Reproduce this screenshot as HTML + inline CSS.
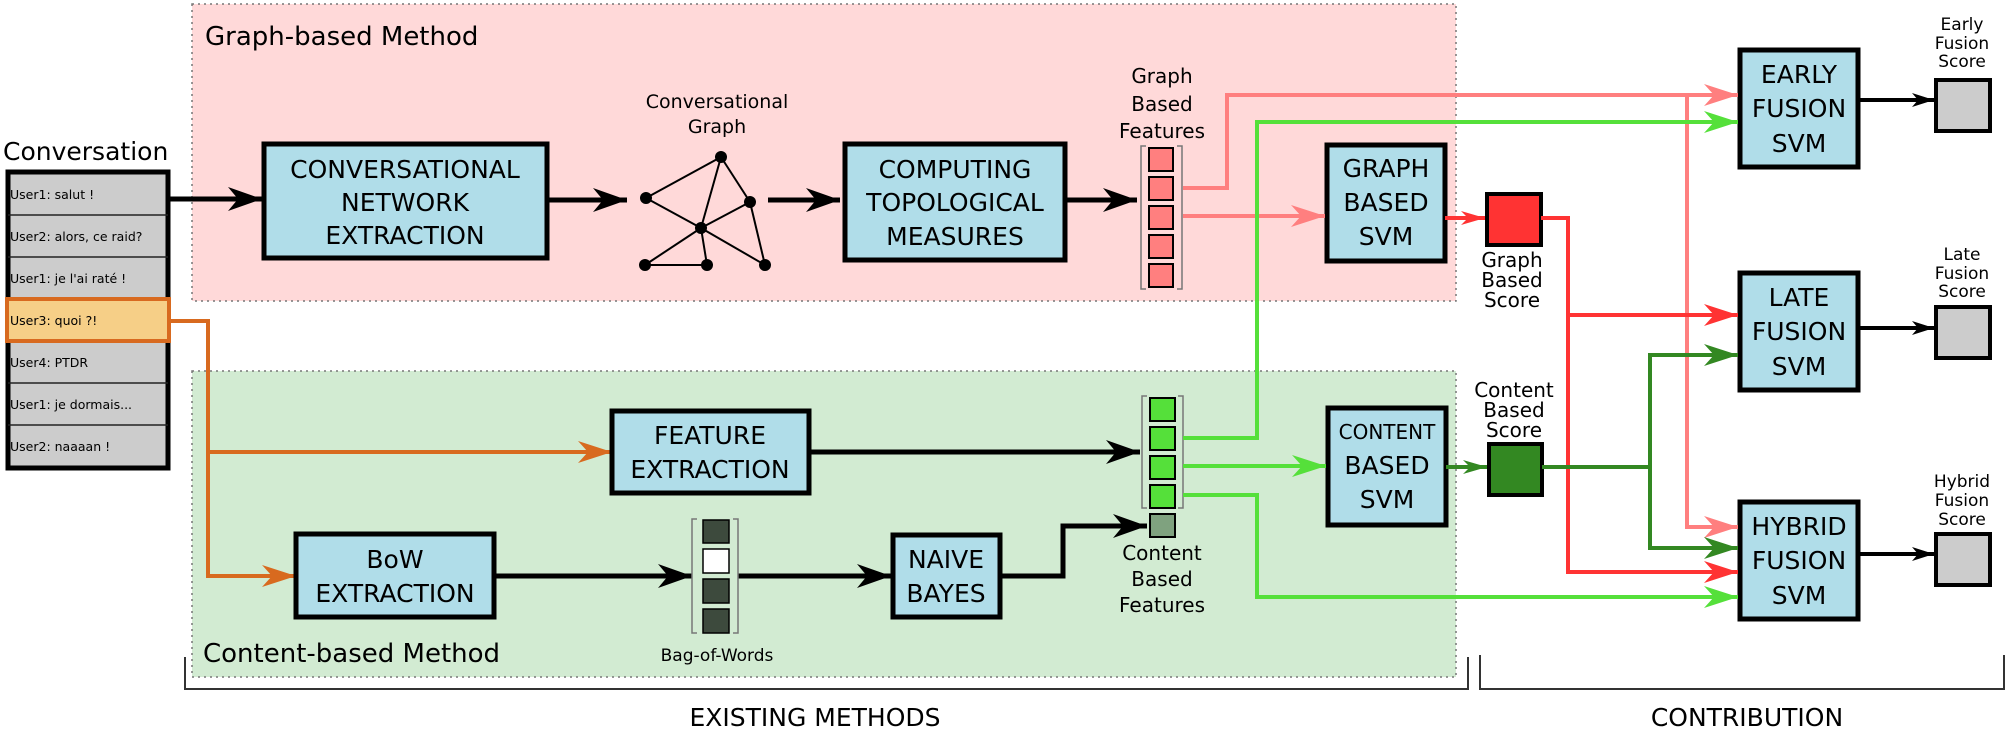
<!DOCTYPE html>
<html><head><meta charset="utf-8"><style>
html,body{margin:0;padding:0;background:#fff;}
svg{display:block;font-family:"DejaVu Sans","Liberation Sans",sans-serif;}
</style></head><body>
<svg width="2008" height="731" viewBox="0 0 2008 731" xmlns="http://www.w3.org/2000/svg">
<defs>
<marker id="ab" markerUnits="userSpaceOnUse" markerWidth="36" markerHeight="26" viewBox="0 -13 36 26" refX="34" refY="0" orient="auto"><path d="M0,-12 L34,0 L0,12 L10,0 Z" fill="#000"/></marker>
<marker id="abs" markerUnits="userSpaceOnUse" markerWidth="24" markerHeight="16" viewBox="0 -8 24 16" refX="22" refY="0" orient="auto"><path d="M0,-7 L22,0 L0,7 L6,0 Z" fill="#000"/></marker>
<marker id="ap" markerUnits="userSpaceOnUse" markerWidth="36" markerHeight="26" viewBox="0 -13 36 26" refX="34" refY="0" orient="auto"><path d="M0,-11 L34,0 L0,11 L10,0 Z" fill="#ff7f7f"/></marker>
<marker id="ar" markerUnits="userSpaceOnUse" markerWidth="36" markerHeight="26" viewBox="0 -13 36 26" refX="34" refY="0" orient="auto"><path d="M0,-11 L34,0 L0,11 L10,0 Z" fill="#ff3333"/></marker>
<marker id="ars" markerUnits="userSpaceOnUse" markerWidth="26" markerHeight="18" viewBox="0 -9 26 18" refX="24" refY="0" orient="auto"><path d="M0,-7 L24,0 L0,7 L7,0 Z" fill="#ff3333"/></marker>
<marker id="ag" markerUnits="userSpaceOnUse" markerWidth="36" markerHeight="26" viewBox="0 -13 36 26" refX="34" refY="0" orient="auto"><path d="M0,-11 L34,0 L0,11 L10,0 Z" fill="#55e03a"/></marker>
<marker id="ad" markerUnits="userSpaceOnUse" markerWidth="36" markerHeight="26" viewBox="0 -13 36 26" refX="34" refY="0" orient="auto"><path d="M0,-11 L34,0 L0,11 L10,0 Z" fill="#338822"/></marker>
<marker id="ads" markerUnits="userSpaceOnUse" markerWidth="26" markerHeight="18" viewBox="0 -9 26 18" refX="24" refY="0" orient="auto"><path d="M0,-7 L24,0 L0,7 L7,0 Z" fill="#338822"/></marker>
<marker id="ao" markerUnits="userSpaceOnUse" markerWidth="36" markerHeight="26" viewBox="0 -13 36 26" refX="34" refY="0" orient="auto"><path d="M0,-11 L34,0 L0,11 L10,0 Z" fill="#d86a1f"/></marker>
</defs>

<!-- regions -->
<rect x="192" y="4" width="1264" height="297" fill="#ffd9d9" stroke="#777" stroke-width="1.5" stroke-dasharray="2,4"/>
<rect x="192" y="371" width="1264" height="306" fill="#d2ebd2" stroke="#777" stroke-width="1.5" stroke-dasharray="2,4"/>
<text x="205" y="45" font-size="26">Graph-based Method</text>
<text x="203" y="662" font-size="26">Content-based Method</text>

<!-- conversation -->
<text x="3" y="160" font-size="25">Conversation</text>
<g font-size="12.5">
<rect x="8" y="172" width="160" height="296" fill="#cccccc" stroke="#000" stroke-width="5"/>
<line x1="8" y1="215" x2="168" y2="215" stroke="#222" stroke-width="1.5"/>
<line x1="8" y1="257" x2="168" y2="257" stroke="#222" stroke-width="1.5"/>
<line x1="8" y1="383" x2="168" y2="383" stroke="#222" stroke-width="1.5"/>
<line x1="8" y1="425" x2="168" y2="425" stroke="#222" stroke-width="1.5"/>
<text x="10" y="199">User1: salut !</text>
<text x="10" y="241">User2: alors, ce raid?</text>
<text x="10" y="283">User1: je l'ai raté !</text>
<rect x="7" y="299" width="162" height="42" fill="#f6cf87" stroke="#d86a1f" stroke-width="4"/>
<text x="10" y="325">User3: quoi ?!</text>
<text x="10" y="367">User4: PTDR</text>
<text x="10" y="409">User1: je dormais...</text>
<text x="10" y="451">User2: naaaan !</text>
</g>

<!-- orange lines -->
<polyline points="170,321 208,321 208,576 296,576" fill="none" stroke="#d86a1f" stroke-width="4" marker-end="url(#ao)"/>
<line x1="208" y1="452" x2="612" y2="452" stroke="#d86a1f" stroke-width="4" marker-end="url(#ao)"/>

<!-- graph pipeline -->
<line x1="170" y1="199" x2="262" y2="199" stroke="#000" stroke-width="5" marker-end="url(#ab)"/>
<g font-size="25" text-anchor="middle">
<rect x="264" y="144" width="283" height="114" fill="#b0dde9" stroke="#000" stroke-width="5"/>
<text x="405" y="178">CONVERSATIONAL</text><text x="405" y="211">NETWORK</text><text x="405" y="244">EXTRACTION</text>
<rect x="845" y="144" width="220" height="116" fill="#b0dde9" stroke="#000" stroke-width="5"/>
<text x="955" y="178">COMPUTING</text><text x="955" y="211">TOPOLOGICAL</text><text x="955" y="245">MEASURES</text>
</g>
<line x1="547" y1="200" x2="627" y2="200" stroke="#000" stroke-width="5" marker-end="url(#ab)"/>
<line x1="768" y1="200" x2="840" y2="200" stroke="#000" stroke-width="5" marker-end="url(#ab)"/>
<line x1="1065" y1="200" x2="1137" y2="200" stroke="#000" stroke-width="5" marker-end="url(#ab)"/>

<!-- conversational graph -->
<text x="717" y="108" font-size="19" text-anchor="middle">Conversational</text>
<text x="717" y="133" font-size="19" text-anchor="middle">Graph</text>
<g stroke="#000" stroke-width="2">
<line x1="646" y1="198" x2="721" y2="157"/><line x1="721" y1="157" x2="750" y2="202"/>
<line x1="646" y1="198" x2="701" y2="228"/><line x1="701" y1="228" x2="750" y2="202"/>
<line x1="701" y1="228" x2="721" y2="157"/><line x1="701" y1="228" x2="645" y2="265"/>
<line x1="701" y1="228" x2="707" y2="265"/><line x1="701" y1="228" x2="765" y2="265"/>
<line x1="645" y1="265" x2="707" y2="265"/><line x1="750" y1="202" x2="765" y2="265"/>
</g>
<g fill="#000"><circle cx="646" cy="198" r="6"/><circle cx="721" cy="157" r="6"/><circle cx="750" cy="202" r="6"/><circle cx="701" cy="228" r="6"/><circle cx="645" cy="265" r="6"/><circle cx="707" cy="265" r="6"/><circle cx="765" cy="265" r="6"/></g>

<!-- graph features vector -->
<g font-size="20" text-anchor="middle"><text x="1162" y="83">Graph</text><text x="1162" y="111">Based</text><text x="1162" y="138">Features</text></g>
<path d="M1146,146 H1141 V289 H1146 M1177,146 H1182 V289 H1177" fill="none" stroke="#777" stroke-width="1.5"/>
<g fill="#ff7f7f" stroke="#000" stroke-width="2">
<rect x="1149" y="148" width="24" height="23"/><rect x="1149" y="177" width="24" height="23"/><rect x="1149" y="206" width="24" height="23"/><rect x="1149" y="235" width="24" height="23"/><rect x="1149" y="264" width="24" height="23"/>
</g>

<!-- content pipeline -->
<g font-size="25" text-anchor="middle">
<rect x="612" y="411" width="197" height="82" fill="#b0dde9" stroke="#000" stroke-width="5"/>
<text x="710" y="444">FEATURE</text><text x="710" y="478">EXTRACTION</text>
<rect x="296" y="534" width="198" height="83" fill="#b0dde9" stroke="#000" stroke-width="5"/>
<text x="395" y="568">BoW</text><text x="395" y="602">EXTRACTION</text>
<rect x="893" y="535" width="107" height="82" fill="#b0dde9" stroke="#000" stroke-width="5"/>
<text x="946" y="568">NAIVE</text><text x="946" y="602">BAYES</text>
</g>
<line x1="809" y1="452" x2="1140" y2="452" stroke="#000" stroke-width="5" marker-end="url(#ab)"/>
<line x1="494" y1="576" x2="692" y2="576" stroke="#000" stroke-width="5" marker-end="url(#ab)"/>
<line x1="738" y1="576" x2="891" y2="576" stroke="#000" stroke-width="5" marker-end="url(#ab)"/>
<polyline points="1000,576 1063,576 1063,526 1147,526" fill="none" stroke="#000" stroke-width="5" marker-end="url(#ab)"/>

<!-- bag of words -->
<path d="M697,519 H692 V633 H697 M733,519 H738 V633 H733" fill="none" stroke="#777" stroke-width="1.5"/>
<g stroke="#000" stroke-width="1.5">
<rect x="703" y="520" width="26" height="23" fill="#3d4a3d"/><rect x="703" y="549" width="26" height="24" fill="#fff"/><rect x="703" y="579" width="26" height="24" fill="#3d4a3d"/><rect x="703" y="609" width="26" height="24" fill="#3d4a3d"/>
</g>
<text x="717" y="661" font-size="17" text-anchor="middle">Bag-of-Words</text>

<!-- content features vector -->
<path d="M1147,396 H1142 V508 H1147 M1178,396 H1183 V508 H1178" fill="none" stroke="#777" stroke-width="1.5"/>
<g fill="#55e03a" stroke="#000" stroke-width="2">
<rect x="1150" y="398" width="25" height="23"/><rect x="1150" y="427" width="25" height="23"/><rect x="1150" y="456" width="25" height="23"/><rect x="1150" y="485" width="25" height="23"/>
</g>
<rect x="1150" y="514" width="25" height="23" fill="#7fa27f" stroke="#000" stroke-width="2"/>
<g font-size="20" text-anchor="middle"><text x="1162" y="560">Content</text><text x="1162" y="586">Based</text><text x="1162" y="612">Features</text></g>

<!-- SVMs -->
<g font-size="25" text-anchor="middle">
<rect x="1327" y="145" width="118" height="116" fill="#b0dde9" stroke="#000" stroke-width="5"/>
<text x="1386" y="177">GRAPH</text><text x="1386" y="211">BASED</text><text x="1386" y="245">SVM</text>
<rect x="1328" y="408" width="118" height="117" fill="#b0dde9" stroke="#000" stroke-width="5"/>
<text x="1387" y="439" font-size="20">CONTENT</text><text x="1387" y="474">BASED</text><text x="1387" y="508">SVM</text>
<rect x="1740" y="50" width="118" height="117" fill="#b0dde9" stroke="#000" stroke-width="5"/>
<text x="1799" y="83">EARLY</text><text x="1799" y="117">FUSION</text><text x="1799" y="152">SVM</text>
<rect x="1740" y="273" width="118" height="117" fill="#b0dde9" stroke="#000" stroke-width="5"/>
<text x="1799" y="306">LATE</text><text x="1799" y="340">FUSION</text><text x="1799" y="375">SVM</text>
<rect x="1740" y="502" width="118" height="117" fill="#b0dde9" stroke="#000" stroke-width="5"/>
<text x="1799" y="535">HYBRID</text><text x="1799" y="569">FUSION</text><text x="1799" y="604">SVM</text>
</g>

<!-- scores -->
<rect x="1487" y="194" width="54" height="51" fill="#ff3333" stroke="#000" stroke-width="4"/>
<g font-size="20" text-anchor="middle"><text x="1512" y="267">Graph</text><text x="1512" y="287">Based</text><text x="1512" y="307">Score</text>
<text x="1514" y="397">Content</text><text x="1514" y="417">Based</text><text x="1514" y="437">Score</text></g>
<rect x="1489" y="444" width="53" height="51" fill="#338822" stroke="#000" stroke-width="4"/>
<g fill="#cccccc" stroke="#000" stroke-width="4">
<rect x="1936" y="80" width="54" height="51"/><rect x="1936" y="307" width="54" height="51"/><rect x="1936" y="534" width="54" height="51"/>
</g>
<g font-size="17" text-anchor="middle">
<text x="1962" y="30">Early</text><text x="1962" y="49">Fusion</text><text x="1962" y="67">Score</text>
<text x="1962" y="260">Late</text><text x="1962" y="279">Fusion</text><text x="1962" y="297">Score</text>
<text x="1962" y="487">Hybrid</text><text x="1962" y="506">Fusion</text><text x="1962" y="525">Score</text>
</g>
<line x1="1858" y1="100" x2="1934" y2="100" stroke="#000" stroke-width="4" marker-end="url(#abs)"/>
<line x1="1858" y1="328" x2="1934" y2="328" stroke="#000" stroke-width="4" marker-end="url(#abs)"/>
<line x1="1858" y1="554" x2="1934" y2="554" stroke="#000" stroke-width="4" marker-end="url(#abs)"/>

<!-- colored connectors -->
<g fill="none" stroke-width="4">
<polyline points="1183,188 1227,188 1227,95 1738,95" stroke="#ff7f7f" marker-end="url(#ap)"/>
<line x1="1183" y1="216" x2="1325" y2="216" stroke="#ff7f7f" marker-end="url(#ap)"/>
<polyline points="1687,95 1687,527 1738,527" stroke="#ff7f7f" marker-end="url(#ap)"/>
<polyline points="1183,438 1257,438 1257,122 1738,122" stroke="#55e03a" marker-end="url(#ag)"/>
<line x1="1183" y1="466" x2="1326" y2="466" stroke="#55e03a" marker-end="url(#ag)"/>
<polyline points="1183,495 1257,495 1257,597 1738,597" stroke="#55e03a" marker-end="url(#ag)"/>
<line x1="1445" y1="218" x2="1485" y2="218" stroke="#ff3333" marker-end="url(#ars)"/>
<polyline points="1541,218 1568,218 1568,572 1738,572" stroke="#ff3333" marker-end="url(#ar)"/>
<line x1="1568" y1="315" x2="1738" y2="315" stroke="#ff3333" marker-end="url(#ar)"/>
<line x1="1446" y1="467" x2="1487" y2="467" stroke="#338822" marker-end="url(#ads)"/>
<polyline points="1542,467 1650,467 1650,355 1738,355" stroke="#338822" marker-end="url(#ad)"/>
<polyline points="1650,467 1650,548 1738,548" stroke="#338822" marker-end="url(#ad)"/>
</g>

<!-- brackets -->
<path d="M185,657 V689 H1468 V657" fill="none" stroke="#333" stroke-width="2"/>
<path d="M1480,655 V689 H2004 V655" fill="none" stroke="#333" stroke-width="2"/>
<text x="815" y="726" font-size="25" text-anchor="middle">EXISTING METHODS</text>
<text x="1747" y="726" font-size="25" text-anchor="middle">CONTRIBUTION</text>
</svg>
</body></html>
